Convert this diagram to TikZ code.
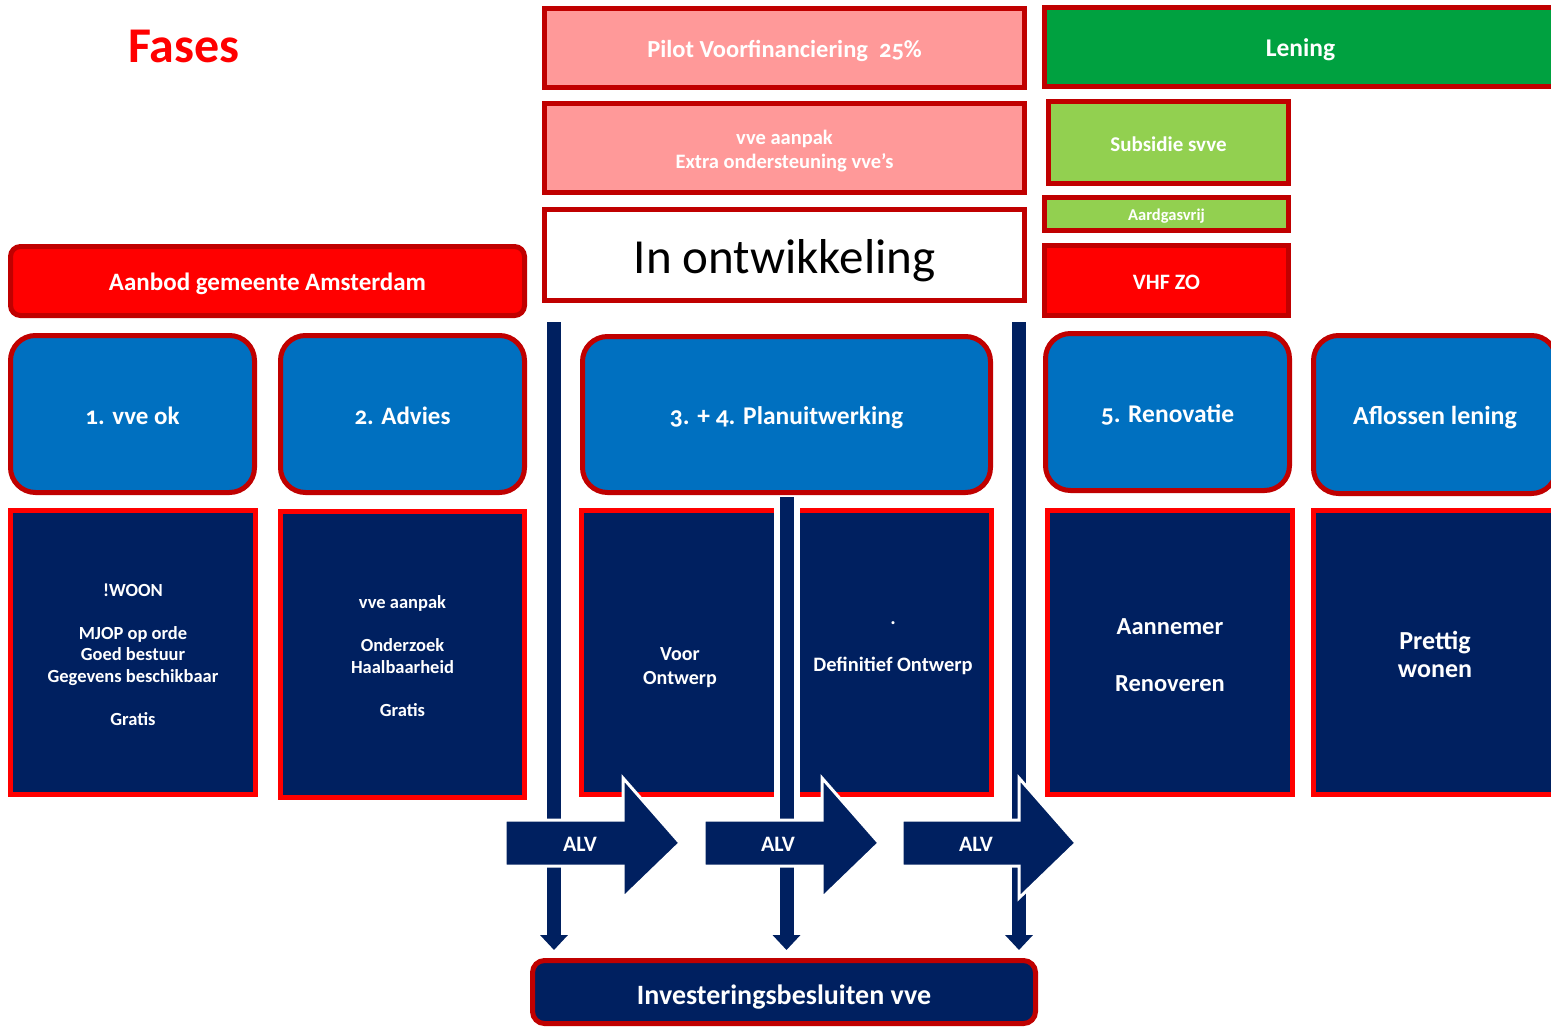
\documentclass[tikz,border=0pt]{standalone}
\usepackage{fontspec}
\setmainfont{Carlito}[Numbers=OldStyle]
\usetikzlibrary{arrows.meta}
\definecolor{dred}{RGB}{192,0,0}
\definecolor{bred}{RGB}{255,0,0}
\definecolor{pinkf}{RGB}{255,153,153}
\definecolor{greenf}{RGB}{0,161,64}
\definecolor{lgreen}{RGB}{146,208,80}
\definecolor{bluef}{RGB}{0,112,192}
\definecolor{navy}{RGB}{0,32,96}
\newcommand\fsz[2]{\fontsize{#1}{#2}\selectfont\bfseries}
\newcommand\dn[2][3pt]{\raisebox{-#1}[\height][\depth]{#2}}
\begin{document}
\begin{tikzpicture}[x=1pt,y=-1pt,
  box/.style={draw=dred, line width=5pt, inner sep=0pt, text=white, align=center},
  pinkbox/.style={box, fill=pinkf},
  greenbox/.style={box, fill=greenf},
  lgbox/.style={box, fill=lgreen},
  redbox/.style={box, fill=bred},
  bluebox/.style={box, fill=bluef, rounded corners=25pt},
  navybox/.style={box, draw=bred, fill=navy},
  wt/.style={text=white, align=center, inner sep=0pt},
  bar/.style={draw=navy, line width=14pt, -{Triangle[width=27pt,length=15pt]}},
  alvshape/.style={fill=navy, draw=white, line width=3pt, line join=miter},
]
\clip (0,0) rectangle (1551,1028);
\fill[white] (0,0) rectangle (1551,1028);

\node[text=bred, inner sep=0pt, font=\fsz{50}{54}] (fases) at (184,46) {Fases};

% top boxes
\node[pinkbox, minimum width=480pt, minimum height=79pt, font=\fsz{24.5}{27}] (pilot) at (784.5,48) {\dn{Pilot Voorfinanciering\ \ 25\%}};
\node[pinkbox, minimum width=480pt, minimum height=89pt] (vveap) at (784.5,148) {};
\node[wt, font=\fsz{20.5}{24}] (vveapt) at (784.5,151) {vve aanpak\\Extra ondersteuning vve’s};
\node[box, fill=white, text=black, minimum width=480pt, minimum height=91pt, font=\fontsize{49}{54}\selectfont] (ontw) at (784.5,255) {\dn[6pt]{In ontwikkeling}};
\node[greenbox, minimum width=512pt, minimum height=79pt, font=\fsz{25.5}{28}] (lening) at (1300.5,47) {\dn{Lening}};
\node[lgbox, minimum width=240pt, minimum height=82pt, font=\fsz{21}{24}] (subs) at (1168.5,142.5) {\dn[2pt]{Subsidie svve}};
\node[lgbox, minimum width=244pt, minimum height=33pt, font=\fsz{16.5}{18}] (aard) at (1166.5,214) {\dn[2pt]{Aardgasvrij}};
\node[redbox, minimum width=244pt, minimum height=70pt, font=\fsz{22}{24}] (vhf) at (1166.5,280.5) {\dn[2pt]{VHF ZO}};
\node[redbox, rounded corners=10pt, minimum width=514pt, minimum height=69pt, font=\fsz{25}{28}] (aanbod) at (267.5,281) {\dn{Aanbod gemeente Amsterdam}};

% blue phase boxes
\node[bluebox, minimum width=244pt, minimum height=157pt, font=\fsz{25}{28}] (p1) at (132.5,414) {\dn[2pt]{1. vve ok}};
\node[bluebox, minimum width=244pt, minimum height=157pt, font=\fsz{25}{28}] (p2) at (402.5,414) {\dn[2pt]{2. Advies}};
\node[bluebox, minimum width=408pt, minimum height=156pt, font=\fsz{25.5}{28}] (p34) at (786.5,414.5) {\dn{3. + 4. Planuitwerking}};
\node[bluebox, minimum width=244pt, minimum height=157pt, font=\fsz{25.5}{28}] (p5) at (1167.5,412) {\dn{5. Renovatie}};
\node[bluebox, minimum width=243pt, minimum height=158pt, font=\fsz{26}{28}] (p6) at (1435,414.5) {\dn{Aflossen lening}};

% navy detail boxes
\node[navybox, minimum width=245pt, minimum height=284pt] (n1) at (133,652.5) {};
\node[wt, font=\fsz{18.5}{21.5}] (n1t) at (133,654.5)
  {!WOON\\[21.5pt]MJOP op orde\\Goed bestuur\\Gegevens beschikbaar\\[21.5pt]Gratis};
\node[navybox, minimum width=244pt, minimum height=286pt] (n2) at (402.5,654.5) {};
\node[wt, font=\fsz{18.5}{21.5}] (n2t) at (402.5,656)
  {vve aanpak\\[21.5pt]Onderzoek\\Haalbaarheid\\[21.5pt]Gratis};
\node[navybox, minimum width=196pt, minimum height=284pt] (n3) at (679.5,652.5) {};
\node[wt, font=\fsz{20}{24}] (n3t) at (680,668) {Voor\\Ontwerp};
\node[navybox, minimum width=194pt, minimum height=284pt] (n4) at (894.5,652.5) {};
\node[wt, font=\fsz{20.5}{23.5}] (n4t) at (893,648.5) {.\\[23.5pt]Definitief Ontwerp};
\node[navybox, minimum width=245pt, minimum height=284pt] (n5) at (1170,652.5) {};
\node[wt, font=\fsz{24.5}{28.5}] (n5t) at (1170,655) {Aannemer\\[28.5pt]Renoveren};
\node[navybox, minimum width=243pt, minimum height=284pt] (n6) at (1435,652.5) {};
\node[wt, font=\fsz{26}{28}] (n6t) at (1435,654) {Prettig\\wonen};

% decision box
\node[box, fill=navy, rounded corners=12pt, minimum width=503pt, minimum height=63pt, font=\fsz{28}{30}] (inv) at (784,992) {\dn[5pt]{Investeringsbesluiten vve}};

% vertical bars
\coordinate (b1top) at (554,322);
\coordinate (b3top) at (1019,322);
\draw[white, line width=26pt] ([yshift=-5pt]p34.south) -- ([yshift=-5pt]p34.south |- n3.south);
\draw[bar, shorten >=8pt] (b1top) -- (b1top |- inv.north);
\draw[bar, shorten >=8pt] ([yshift=-2pt]p34.south) -- (p34.south |- inv.north);
\draw[bar, shorten >=8pt] (b3top) -- (b3top |- inv.north);

% ALV arrows
\draw[alvshape] (505,820) -- (623,820) -- (623,778) -- (680,843) -- (623,898) -- (623,866) -- (505,866) -- cycle;
\node[wt, font=\fsz{22}{24}] (alv1) at (580,844) {ALV};
\draw[alvshape] (704,820) -- (822,820) -- (822,778) -- (879,843) -- (822,898) -- (822,866) -- (704,866) -- cycle;
\node[wt, font=\fsz{22}{24}] (alv2) at (778,844) {ALV};
\draw[alvshape] (902,820) -- (1019,820) -- (1019,778) -- (1076,843) -- (1019,898) -- (1019,866) -- (902,866) -- cycle;
\node[wt, font=\fsz{22}{24}] (alv3) at (976,844) {ALV};
\end{tikzpicture}
\end{document}
